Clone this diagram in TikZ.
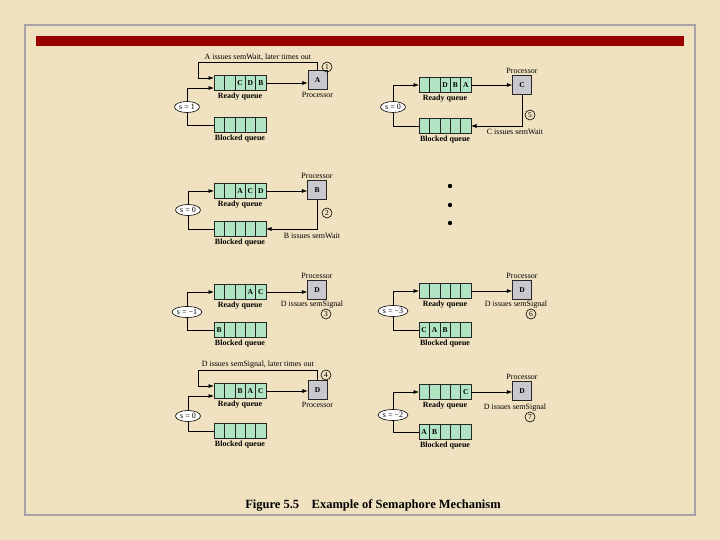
\documentclass[tikz,border=0pt]{standalone}
\usepackage{fontspec}
\setmainfont{Liberation Serif}
\usepackage{xcolor}
\usetikzlibrary{arrows.meta,positioning,calc,shapes.geometric}
\definecolor{slidebg}{RGB}{240,226,193}
\definecolor{framegray}{RGB}{168,162,168}
\definecolor{titlered}{RGB}{153,0,0}
\definecolor{cellgreen}{RGB}{176,228,194}
\definecolor{cpugray}{RGB}{200,200,206}
\tikzset{
  qcell/.style={draw=black!85,fill=cellgreen,minimum width=10.4pt,minimum height=15pt,
    inner sep=0pt,outer sep=0pt,font=\fontsize{7.5}{8}\selectfont\bfseries},
  cpubox/.style={draw=black!85,fill=cpugray,minimum width=19pt,minimum height=19pt,
    inner sep=0pt,font=\fontsize{7.5}{8}\selectfont\bfseries},
  semval/.style={ellipse,draw,semithick,fill=white,minimum width=25pt,minimum height=11pt,
    inner sep=0.5pt,font=\fontsize{8}{8}\selectfont},
  stepno/.style={circle,draw,semithick,minimum size=10pt,inner sep=0pt,font=\fontsize{7.5}{8}\selectfont},
  qlabel/.style={font=\fontsize{8}{9}\selectfont\bfseries,inner sep=1pt},
  plabel/.style={font=\fontsize{8}{9}\selectfont,inner sep=1pt},
  flow/.style={-{Latex[length=5.5pt,width=4pt]},semithick},
  plainline/.style={semithick}
}
% five queue slots in a row, west end at #2
\newcommand{\queuerow}[7]{%
  \node[qcell,anchor=west] (#1-1) at (#2) {#3};
  \node[qcell,right=0pt of #1-1] (#1-2) {#4};
  \node[qcell,right=0pt of #1-2] (#1-3) {#5};
  \node[qcell,right=0pt of #1-3] (#1-4) {#6};
  \node[qcell,right=0pt of #1-4] (#1-5) {#7};
}

\begin{document}
\begin{tikzpicture}[x=1pt,y=-1pt]
  \useasboundingbox (0,0) rectangle (720,540);
  \fill[slidebg] (0,0) rectangle (720,540);
  \draw[framegray,line width=2pt] (25,25) rectangle (695,515);
  \fill[titlered] (36,36) rectangle (684,46);

  % (1) A issues semWait, later times out
  \queuerow{r1}{214,83}{}{}{C}{D}{B}
  \queuerow{b1}{214,125}{}{}{}{}{}
  \node[qlabel,below=1pt of r1-3] (r1l) {Ready queue};
  \node[qlabel,below=1pt of b1-3] (b1l) {Blocked queue};
  \node[cpubox] (p1) at (317.5,80) {A};
  \node[plabel,below=1pt of p1] (p1l) {Processor};
  \node[semval] (s1) at (187,107) {s = 1};
  \coordinate (t1) at (198,62);
  \draw[flow] (r1-5.east) -- (r1-5.east -| p1.west);
  \draw[flow] (p1.north) |- node[plabel,above,pos=0.75] {A issues semWait, later times out} (t1)
    |- ($(r1-1.west)+(0,-5)$);
  \node[stepno] (n1) at (327,67) {1};
  \draw[flow] (s1.north) |- ($(r1-1.west)+(0,5)$);
  \draw[plainline] (s1.south) |- (b1-1.west);

  % (5) C issues semWait
  \queuerow{r2}{419,85}{}{}{D}{B}{A}
  \queuerow{b2}{419,126}{}{}{}{}{}
  \node[qlabel,below=1pt of r2-3] (r2l) {Ready queue};
  \node[qlabel,below=1pt of b2-3] (b2l) {Blocked queue};
  \node[cpubox] (p2) at (522,85) {C};
  \node[plabel,above=1pt of p2] (p2l) {Processor};
  \node[semval] (s2) at (393,107) {s = 0};
  \draw[flow] (r2-5.east) -- (r2-5.east -| p2.west);
  \draw[flow] (p2.south) |- (b2-5.east);
  \node[plabel] (w2) at (515,132) {C issues semWait};
  \node[stepno] (n2) at (530,115) {5};
  \draw[flow] (s2.north) |- (r2-1.west);
  \draw[plainline] (s2.south) |- (b2-1.west);

  % (2) B issues semWait
  \queuerow{r3}{214,191}{}{}{A}{C}{D}
  \queuerow{b3}{214,229}{}{}{}{}{}
  \node[qlabel,below=1pt of r3-3] (r3l) {Ready queue};
  \node[qlabel,below=1pt of b3-3] (b3l) {Blocked queue};
  \node[cpubox] (p3) at (317,190) {B};
  \node[plabel,above=1pt of p3] (p3l) {Processor};
  \node[semval] (s3) at (188,210) {s = 0};
  \draw[flow] (r3-5.east) -- (r3-5.east -| p3.west);
  \draw[flow] (p3.south) |- (b3-5.east);
  \node[plabel] (w3) at (312,236) {B issues semWait};
  \node[stepno] (n3) at (327,213) {2};
  \draw[flow] (s3.north) |- (r3-1.west);
  \draw[plainline] (s3.south) |- (b3-1.west);

  \foreach \dy in {186,205,223}
    \fill (450,\dy) circle (2.2pt);

  % (3) D issues semSignal
  \queuerow{r4}{214,292}{}{}{}{A}{C}
  \queuerow{b4}{214,330}{B}{}{}{}{}
  \node[qlabel,below=1pt of r4-3] (r4l) {Ready queue};
  \node[qlabel,below=1pt of b4-3] (b4l) {Blocked queue};
  \node[cpubox] (p4) at (317,290) {D};
  \node[plabel,above=1pt of p4] (p4l) {Processor};
  \node[semval] (s4) at (187,312) {s = −1};
  \draw[flow] (r4-5.east) -- (r4-5.east -| p4.west);
  \node[plabel] (w4) at (312,305) {D issues semSignal};
  \node[stepno] (n4) at (326,314) {3};
  \draw[flow] (s4.north) |- (r4-1.west);
  \draw[plainline] (s4.south) |- (b4-1.west);

  % (6) D issues semSignal
  \queuerow{r5}{419,291}{}{}{}{}{}
  \queuerow{b5}{419,330}{C}{A}{B}{}{}
  \node[qlabel,below=1pt of r5-3] (r5l) {Ready queue};
  \node[qlabel,below=1pt of b5-3] (b5l) {Blocked queue};
  \node[cpubox] (p5) at (522,290) {D};
  \node[plabel,above=1pt of p5] (p5l) {Processor};
  \node[semval] (s5) at (393,311) {s = −3};
  \draw[flow] (r5-5.east) -- (r5-5.east -| p5.west);
  \node[plabel] (w5) at (516,305) {D issues semSignal};
  \node[stepno] (n5) at (531,314) {6};
  \draw[flow] (s5.north) |- (r5-1.west);
  \draw[plainline] (s5.south) |- (b5-1.west);

  % (4) D issues semSignal, later times out
  \queuerow{r6}{214,391}{}{}{B}{A}{C}
  \queuerow{b6}{214,431}{}{}{}{}{}
  \node[qlabel,below=1pt of r6-3] (r6l) {Ready queue};
  \node[qlabel,below=1pt of b6-3] (b6l) {Blocked queue};
  \node[cpubox] (p6) at (317.5,390) {D};
  \node[plabel,below=1pt of p6] (p6l) {Processor};
  \node[semval] (s6) at (188,416) {s = 0};
  \coordinate (t6) at (198,370);
  \draw[flow] (r6-5.east) -- (r6-5.east -| p6.west);
  \draw[flow] (p6.north) |- node[plabel,above,pos=0.75] {D issues semSignal, later times out} (t6)
    |- ($(r6-1.west)+(0,-5)$);
  \node[stepno] (n6) at (326,375) {4};
  \draw[flow] (s6.north) |- ($(r6-1.west)+(0,5)$);
  \draw[plainline] (s6.south) |- (b6-1.west);

  % (7) D issues semSignal
  \queuerow{r7}{419,392}{}{}{}{}{C}
  \queuerow{b7}{419,432}{A}{B}{}{}{}
  \node[qlabel,below=1pt of r7-3] (r7l) {Ready queue};
  \node[qlabel,below=1pt of b7-3] (b7l) {Blocked queue};
  \node[cpubox] (p7) at (522,391) {D};
  \node[plabel,above=1pt of p7] (p7l) {Processor};
  \node[semval] (s7) at (393,415) {s = −2};
  \draw[flow] (r7-5.east) -- (r7-5.east -| p7.west);
  \node[plabel] (w7) at (515,408) {D issues semSignal};
  \node[stepno] (n7) at (530,417) {7};
  \draw[flow] (s7.north) |- (r7-1.west);
  \draw[plainline] (s7.south) |- (b7-1.west);

  \node[font=\fontsize{12.5}{14}\selectfont\bfseries] (caption) at (373,505)
    {Figure 5.5\quad Example of Semaphore Mechanism};
\end{tikzpicture}
\end{document}
